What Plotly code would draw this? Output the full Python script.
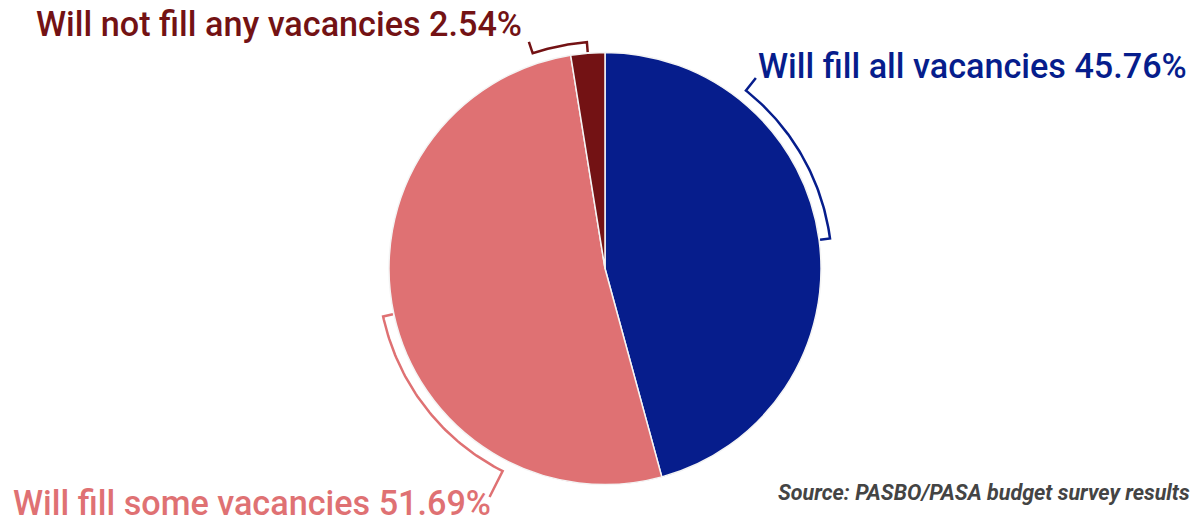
import math
import plotly.graph_objects as go

# Survey result shares (percent)
categories = ["Will fill all vacancies", "Will fill some vacancies", "Will not fill any vacancies"]
shares = [45.76, 51.69, 2.54]
colors = ["#061d8c", "#df7173", "#731214"]

W, H = 1194, 523
CX, CY, R = 605, 268.5, 216          # pie centre and radius in px
ARC_R = 227                           # bracket radius
INNER_TICK = 10                       # tick pointing back toward the slice
bracket_span = [44, 51, 14]           # degrees the bracket runs back from slice middle
leader_len = [16, 29, 12]             # outward tick toward the label

fig = go.Figure()

fig.add_trace(go.Pie(
    labels=categories,
    values=shares,
    sort=False,
    direction="clockwise",
    rotation=0,
    marker=dict(colors=colors, line=dict(color="#f4f4f4", width=1.5)),
    textinfo="none",
    hoverinfo="label+percent",
    showlegend=False,
    domain=dict(x=[(CX - R) / W, (CX + R) / W], y=[(H - CY - R) / H, (H - CY + R) / H]),
))


def pt(theta_deg, r):
    t = math.radians(theta_deg)
    return CX + r * math.sin(t), CY - r * math.cos(t)


total = sum(shares)
start = 0.0
for i, v in enumerate(shares):
    sweep = 360.0 * v / total
    mid = start + sweep / 2
    # bracket runs from the slice middle back toward the label side
    if i == 0:
        a0, a1 = mid - bracket_span[i], mid
    else:
        a0, a1 = mid, mid - bracket_span[i]
    n = 60
    xs, ys = [], []
    # inner tick at the slice middle
    x, y = pt(mid, ARC_R - INNER_TICK)
    if i == 0:
        # leader end first
        lx, ly = pt(a0, ARC_R + leader_len[i])
        xs.append(lx); ys.append(ly)
        for k in range(n + 1):
            a = a0 + (a1 - a0) * k / n
            px, py = pt(a, ARC_R)
            xs.append(px); ys.append(py)
        xs.append(x); ys.append(y)
    else:
        xs.append(x); ys.append(y)
        for k in range(n + 1):
            a = a0 + (a1 - a0) * k / n
            px, py = pt(a, ARC_R)
            xs.append(px); ys.append(py)
        lx, ly = pt(a1, ARC_R + leader_len[i])
        xs.append(lx); ys.append(ly)
    fig.add_trace(go.Scatter(x=xs, y=ys, mode="lines", line=dict(color=colors[i], width=2.5),
                             hoverinfo="skip", showlegend=False))
    start += sweep

label_pos = [(756, 66, "left"), (11, 503, "left"), (34, 24, "left")]
for (lx, ly, anc), cat, v, c in zip(label_pos, categories, shares, colors):
    fig.add_annotation(x=lx, y=ly, xref="x", yref="y", text=f"{cat} {v:.2f}%",
                       showarrow=False, xanchor=anc, yanchor="middle",
                       font=dict(family="Roboto", size=34.2, color=c, weight=500))

fig.add_annotation(x=1192, y=492, xref="x", yref="y", text="<i>Source: PASBO/PASA budget survey results</i>",
                   showarrow=False, xanchor="right", yanchor="middle",
                   font=dict(family="Roboto", size=21.5, color="#444444", weight="bold"))

fig.update_layout(
    width=W, height=H,
    margin=dict(l=0, r=0, t=0, b=0),
    paper_bgcolor="white", plot_bgcolor="rgba(0,0,0,0)",
    xaxis=dict(range=[0, W], visible=False, fixedrange=True),
    yaxis=dict(range=[H, 0], visible=False, fixedrange=True),
)

fig.write_html("out.html")
